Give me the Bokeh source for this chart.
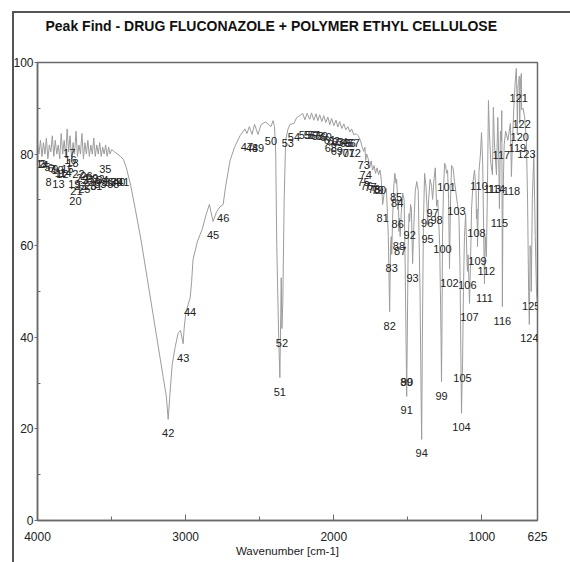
from bokeh.plotting import figure
from bokeh.models import Range1d, FixedTicker, InlineStyleSheet, Title
from bokeh.core.properties import value
from bokeh.embed import file_html
from bokeh.resources import INLINE

TITLE = "Peak Find - DRUG FLUCONAZOLE + POLYMER ETHYL CELLULOSE"
X_LABEL = "Wavenumber [cm-1]"

# spectrum vertices (wavenumber, %T)
spec_wn = [4000, 3990, 3980, 3970, 3960, 3950, 3940, 3930, 3920, 3910,
           3900, 3890, 3880, 3870, 3860, 3850, 3840, 3830, 3820, 3810,
           3800, 3790, 3780, 3770, 3760, 3750, 3740, 3730, 3720, 3710,
           3700, 3690, 3680, 3670, 3660, 3650, 3640, 3630, 3620, 3610,
           3600, 3590, 3580, 3570, 3560, 3550, 3540, 3530, 3520, 3510,
           3500, 3480, 3460, 3440, 3420,
           3400, 3370, 3340, 3300, 3260, 3220, 3180, 3150, 3130, 3118,
           3105, 3091, 3070, 3050, 3035, 3017, 3010, 3000, 2985, 2970,
           2960, 2950, 2920, 2889, 2860, 2840, 2815, 2790, 2768, 2747,
           2730, 2700, 2670, 2633, 2600, 2586, 2570, 2552, 2535, 2512,
           2490, 2460, 2424, 2410, 2400,
           2392, 2385, 2372, 2364, 2358, 2355, 2350, 2344, 2335, 2325,
           2310, 2295, 2269, 2250,
           2230, 2210, 2195, 2180, 2162, 2150, 2135, 2120, 2108, 2095,
           2081, 2068, 2054, 2040, 2027, 2015, 2000, 1985, 1973, 1960,
           1946, 1932, 1919, 1905, 1892, 1880, 1865, 1850,
           1835, 1820, 1808, 1798, 1790, 1785, 1778, 1768, 1758, 1748,
           1738, 1728, 1718, 1708, 1698, 1688, 1680,
           1670, 1660, 1645, 1632, 1623, 1617, 1612, 1609, 1603, 1595,
           1588, 1580, 1576, 1572, 1569, 1564, 1560, 1556, 1552, 1545,
           1535, 1525, 1518, 1510, 1508, 1504, 1498, 1492, 1488, 1482,
           1476, 1468, 1460, 1450, 1440, 1430, 1418, 1410, 1407, 1402,
           1395, 1387, 1378, 1370, 1367, 1360, 1350, 1340, 1333, 1325,
           1315, 1306, 1298, 1285, 1276, 1273, 1269, 1266, 1260, 1252,
           1245, 1239, 1232, 1225, 1219, 1212, 1205, 1195, 1185, 1172,
           1165, 1155, 1148, 1142, 1138, 1134, 1131, 1125, 1118, 1110,
           1100, 1098, 1093, 1088, 1084, 1078, 1070, 1060, 1050, 1040,
           1037, 1033, 1030, 1025, 1020, 1010, 1003, 995, 988, 983,
           978, 970, 963, 956, 950, 940, 929, 923, 915, 902,
           893, 887, 882, 875, 869, 866, 862, 858, 850, 840,
           825, 808, 801, 795, 785, 775, 768, 763, 761, 757,
           752, 748, 745, 740, 734, 732, 722, 712, 700, 692,
           685, 680, 675, 670, 667, 660, 650, 640, 632, 625]
spec_t = [82, 80, 83, 79.5, 82.5, 80, 83.5, 79, 82, 80.5,
          84, 79.5, 83, 80, 82, 79, 84.5, 80, 83, 79.5,
          85.5, 80.5, 84, 79, 82.5, 80, 85, 79.5, 82, 80,
          84.5, 79, 82.5, 80, 83, 79.5, 82, 80, 83.5, 79.5,
          82, 80, 82.5, 79.5, 81.5, 80, 82, 79.5, 81.5, 80,
          81, 80.5, 80, 79.5, 78.8,
          77, 73, 68, 61, 53, 45, 37, 31, 27, 22.1,
          28, 34, 38, 41, 41.5, 38.6, 42, 45, 47, 48.5,
          52, 57, 61, 63.5, 67, 69, 65.3, 67.5, 68.5, 69.0,
          73, 78.6, 81.5, 84, 85.5, 84.5, 86, 84.3, 86.5, 84.3,
          86.5, 87, 86, 87.3, 86,
          80, 60, 40, 31.2, 45, 53, 41.9, 48, 70, 83,
          85.4, 86.5, 86.7, 88,
          88.4, 88.9, 87.5, 88.9, 87.6, 89, 87.4, 88.8, 87.3, 88.6,
          87.1, 88.4, 86.9, 88.1, 86.4, 87.8, 86.2, 87.4, 85.9, 87.1,
          85.6, 86.6, 85.3, 86, 84.8, 85.5, 84.2, 84.5,
          84, 83, 81.5, 80.6, 81.5, 78.6, 80, 79, 77, 78.5,
          76.5, 77.5, 75.8, 77, 75.5, 76.5, 74.5,
          69.0, 71.5, 72.5, 62, 45.6, 60, 62, 58.1, 66, 73,
          75.8, 73.6, 74.5, 72.3, 67.9, 70, 63.1, 66, 62.0, 67,
          71.5, 70, 55, 33.2, 27.1, 40, 60, 67, 65.3, 69,
          68, 56.1, 64, 72, 74, 72, 50, 25, 17.7, 40,
          65, 75.8, 73, 68.1, 64.6, 70, 74.5, 73, 70.1, 74,
          77, 68.6, 70, 60, 40, 30.3, 45, 62.4, 72, 78,
          77.5, 75.8, 76.5, 70, 55.0, 70, 77.5, 77, 74, 70.7,
          69, 66, 55, 35, 23.4, 30, 34.1, 50, 62, 67,
          56, 54.4, 58, 52, 47.4, 55, 68, 74, 76.5, 72,
          65.9, 68, 59.8, 68, 76.2, 80, 84.7, 78, 62, 51.7,
          62, 57.6, 72, 91.7, 85, 78, 75.5, 90.2, 82, 75.5,
          88, 80, 68.1, 85, 82.8, 89.5, 46.7, 70, 82, 85,
          83, 86.7, 75.1, 82, 90, 96, 98.7, 92, 84.3, 95,
          95.4, 97, 86.7, 96, 97.6, 89.7, 90, 88, 83.0, 70,
          50, 42.8, 60, 58, 50.0, 70, 80, 62, 50, 47]

# peak-find table: peak number, wavenumber, %T
peak_no = list(range(1, 126))
peak_wn = [3987, 3973, 3960, 3946, 3933, 3912, 3899, 3926, 3879, 3865,
           3845, 3832, 3859, 3811, 3798, 3778, 3785, 3764, 3751, 3744,
           3737, 3724, 3710, 3697, 3684, 3670, 3657, 3643, 3630, 3616,
           3603, 3589, 3576, 3562, 3542, 3529, 3508, 3488, 3468, 3448,
           3421, 3118, 3017, 2970, 2815, 2747, 2586, 2552, 2512, 2424,
           2364, 2350, 2310, 2269, 2195, 2162, 2135, 2108, 2081, 2054,
           2027, 2000, 1973, 1946, 1919, 1892, 1865, 2020, 1980, 1939,
           1899, 1859, 1798, 1785, 1800, 1778, 1752, 1728, 1705, 1688,
           1670, 1623, 1609, 1572, 1580, 1569, 1552, 1560, 1510, 1506,
           1508, 1488, 1468, 1407, 1367, 1370, 1333, 1306, 1273, 1266,
           1239, 1219, 1172, 1138, 1131, 1098, 1084, 1037, 1030, 1020,
           983, 970, 929, 902, 882, 862, 869, 801, 761, 745,
           752, 732, 700, 680, 667]
peak_t = [81.0, 80.8, 81.0, 80.6, 80.3, 80.1, 79.9, 76.9, 79.9, 79.5,
          79.0, 78.8, 76.6, 79.0, 79.9, 81.7, 83.4, 81.2, 76.6, 72.9,
          75.1, 78.8, 76.2, 77.9, 75.5, 78.2, 77.3, 76.0, 77.9, 76.9,
          76.0, 77.7, 76.6, 77.3, 79.9, 76.9, 76.9, 76.6, 76.9, 76.9,
          76.9, 22.1, 38.6, 48.5, 65.3, 69.0, 84.5, 84.3, 84.3, 86.0,
          31.2, 41.9, 85.4, 86.7, 87.3, 87.3, 87.3, 87.1, 86.9, 86.7,
          86.2, 86.0, 85.8, 85.6, 85.4, 85.4, 85.4, 84.3, 83.8, 83.4,
          83.2, 83.4, 80.6, 78.6, 76.9, 76.2, 75.8, 75.5, 75.3, 75.3,
          69.0, 45.6, 58.1, 72.3, 73.6, 67.9, 62.0, 63.1, 33.2, 33.2,
          27.1, 65.3, 56.1, 17.7, 64.6, 68.1, 70.1, 68.6, 30.3, 62.4,
          75.8, 55.0, 70.7, 23.4, 34.1, 54.4, 47.4, 65.9, 59.8, 76.2,
          51.7, 57.6, 75.5, 75.5, 68.1, 46.7, 82.8, 75.1, 84.3, 86.7,
          95.4, 89.7, 83.0, 42.8, 50.0]

x_major = [4000, 3000, 2000, 1000, 625]
x_minor = [3500, 2500, 1500]
y_major = [0, 20, 40, 60, 80, 100]
y_minor = [10, 30, 50, 70, 90]

FONT = "Liberation Sans"

p = figure(width=570, height=562, x_range=Range1d(4000, 625), y_range=Range1d(0, 100),
           output_backend="svg", toolbar_location=None,
           min_border_left=37, min_border_right=33, min_border_top=62, min_border_bottom=42)
p.background_fill_color = "white"
p.border_fill_color = "white"
p.xgrid.visible = False
p.ygrid.visible = False
p.outline_line_color = "#6a6a6a"
p.outline_line_width = 1.5

p.title.text = TITLE
p.title.align = "left"
p.title.offset = 8
p.title.text_font = FONT
p.title.text_font_size = "14px"
p.title.text_font_style = "bold"
p.title.text_color = "#111111"
p.title.standoff = 26
# empty gap between the title and the plot frame
p.add_layout(Title(text=" ", text_font_size="1px", standoff=13), "above")

p.xaxis.ticker = FixedTicker(ticks=x_major, minor_ticks=x_minor)
p.yaxis.ticker = FixedTicker(ticks=y_major, minor_ticks=y_minor)
for ax in (p.xaxis[0], p.yaxis[0]):
    ax.axis_line_color = "#6a6a6a"
    ax.axis_line_width = 1.5
    ax.major_tick_line_color = "#6a6a6a"
    ax.minor_tick_line_color = "#6a6a6a"
    ax.major_label_text_font = FONT
    ax.major_label_text_font_size = "12px"
    ax.major_label_text_color = "#222222"
p.xaxis.major_tick_in = 6
p.xaxis.major_tick_out = 0
p.xaxis.minor_tick_in = 4
p.xaxis.minor_tick_out = 0
p.xaxis.major_label_standoff = 11
p.xaxis.axis_label = X_LABEL
p.xaxis.axis_label_text_font = FONT
p.xaxis.axis_label_text_font_size = "11.5px"
p.xaxis.axis_label_text_font_style = "normal"
p.xaxis.axis_label_text_color = "#222222"
p.xaxis.axis_label_standoff = 1
p.yaxis.major_tick_in = 0
p.yaxis.major_tick_out = 3
p.yaxis.minor_tick_in = 3
p.yaxis.minor_tick_out = 0
p.yaxis.major_label_standoff = 1

p.line(spec_wn, spec_t, line_color="#9c9c9c", line_width=1)
p.text(x=peak_wn, y=peak_t, text=[str(n) for n in peak_no],
       text_font=value(FONT), text_font_size="11px", text_color="#222222",
       text_align="center", text_baseline="middle", y_offset=14)

# page frame of the scanned printout: left and top rule only
p.stylesheets = [InlineStyleSheet(css=(
    ":host { position: relative; }"
    ":host::before { content: ''; position: absolute; left: 12px; top: 11px;"
    " width: 558px; height: 551px; box-sizing: border-box;"
    " border: 0 none; border-left: 2px solid #555; border-top: 2px solid #555;"
    " outline: none; box-shadow: none; background: transparent;"
    " pointer-events: none; z-index: 5; }"))]

open("out.html", "w").write(file_html(p, INLINE))
